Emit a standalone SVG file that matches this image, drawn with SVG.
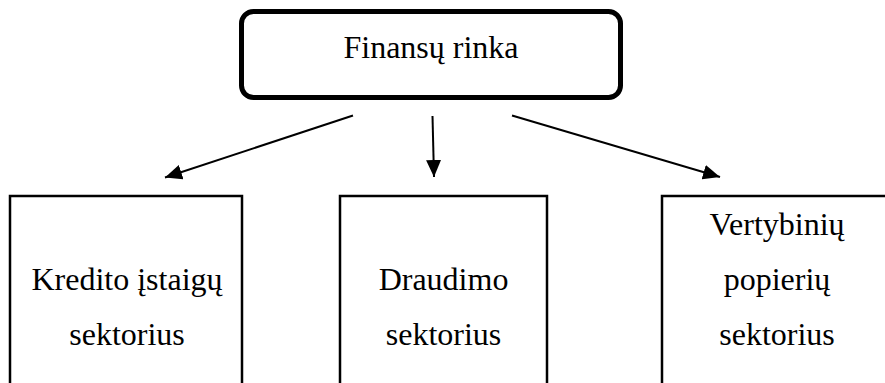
<svg xmlns="http://www.w3.org/2000/svg" width="885" height="383" viewBox="0 0 885 383">
<style>
  .t { font-size: 32px; fill: #000; text-anchor: middle; }
  .box { fill: #fff; stroke: #000; stroke-width: 2.5; }
  .conn { stroke: #000; stroke-width: 2; fill: none; marker-end: url(#ah); }
</style>
<defs>
  <marker id="ah" markerUnits="userSpaceOnUse" markerWidth="18" markerHeight="16" refX="17" refY="7.5" orient="auto">
    <path d="M0,0 L17,7.5 L0,15 Z" fill="#000"/>
  </marker>
</defs>
<rect width="885" height="383" fill="#fff"/>
<g id="root">
  <rect x="241.5" y="11.5" width="379" height="86" rx="12" ry="12" fill="#fff" stroke="#000" stroke-width="5"/>
  <text class="t" x="431" y="58" style="font-family: 'Liberation Serif', serif">Finansų rinka</text>
</g>
<g id="credit">
  <rect class="box" x="10" y="196" width="232" height="200"/>
  <text class="t" x="127" y="290" style="font-family: 'Liberation Serif', serif">Kredito įstaigų</text>
  <text class="t" x="127" y="345" style="font-family: 'Liberation Serif', serif">sektorius</text>
</g>
<g id="insurance">
  <rect class="box" x="340" y="196" width="207" height="200"/>
  <text class="t" x="443.5" y="290" style="font-family: 'Liberation Serif', serif">Draudimo</text>
  <text class="t" x="443.5" y="345" style="font-family: 'Liberation Serif', serif">sektorius</text>
</g>
<g id="securities">
  <rect class="box" x="662" y="196" width="232" height="200"/>
  <text class="t" x="777" y="235" style="font-family: 'Liberation Serif', serif">Vertybinių</text>
  <text class="t" x="777" y="290" style="font-family: 'Liberation Serif', serif">popierių</text>
  <text class="t" x="777" y="345" style="font-family: 'Liberation Serif', serif">sektorius</text>
</g>
<g id="connectors">
  <line class="conn" x1="353" y1="115.5" x2="165" y2="177.5"/>
  <line class="conn" x1="432.5" y1="116" x2="434" y2="177"/>
  <line class="conn" x1="512" y1="115.5" x2="720" y2="177"/>
</g>
</svg>
